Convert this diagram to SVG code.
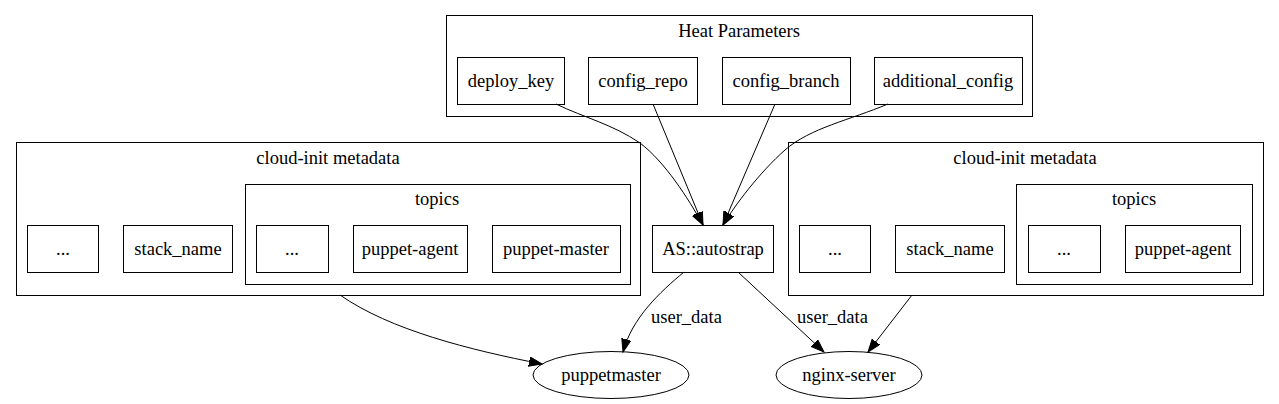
<svg xmlns="http://www.w3.org/2000/svg" width="1279" height="404" viewBox="0 0 1279 404">
<style>
text{font-family:'Liberation Serif','Times New Roman',Times,serif;font-size:18.5px;fill:#000;text-anchor:middle}
.c{fill:none;stroke:#000;stroke-width:1}
.n{fill:#fff;stroke:#000;stroke-width:1}
.e{fill:none;stroke:#000;stroke-width:1}
.l{text-anchor:start}
</style>
<defs>
<marker id="ah" markerUnits="userSpaceOnUse" markerWidth="14" markerHeight="10" refX="13" refY="4.7" orient="auto">
<path d="M0,0 L13,4.7 L0,9.4 z" fill="#000" stroke="#000" stroke-width="1"/>
</marker>
</defs>
<rect width="1279" height="404" fill="#fff"/>
<g id="cluster_heat">
<rect class="c" x="446.5" y="15.5" width="586" height="101"/>
<text x="739" y="37">Heat Parameters</text>
</g>
<g id="cluster_cloudinit_left">
<rect class="c" x="16.5" y="142.5" width="624" height="153"/>
<text x="328" y="164">cloud-init metadata</text>
</g>
<g id="cluster_topics_left">
<rect class="c" x="245.5" y="184.5" width="385" height="100"/>
<text x="437" y="205">topics</text>
</g>
<g id="cluster_cloudinit_right">
<rect class="c" x="788.5" y="142.5" width="475" height="153"/>
<text x="1025" y="164">cloud-init metadata</text>
</g>
<g id="cluster_topics_right">
<rect class="c" x="1016.5" y="184.5" width="236" height="100"/>
<text x="1134" y="205">topics</text>
</g>
<g id="deploy_key"><rect class="n" x="457.5" y="57.5" width="107" height="47"/><text x="511" y="87">deploy_key</text></g>
<g id="config_repo"><rect class="n" x="588.5" y="57.5" width="109" height="47"/><text x="643" y="87">config_repo</text></g>
<g id="config_branch"><rect class="n" x="722.5" y="57.5" width="128" height="47"/><text x="786" y="87">config_branch</text></g>
<g id="additional_config"><rect class="n" x="874.5" y="57.5" width="148" height="47"/><text x="948" y="87">additional_config</text></g>
<g id="l_dots"><rect class="n" x="27.5" y="225.5" width="71" height="47"/><text x="63" y="255">...</text></g>
<g id="l_stack_name"><rect class="n" x="123.5" y="225.5" width="109" height="47"/><text x="178" y="255">stack_name</text></g>
<g id="l_topics_dots"><rect class="n" x="256.5" y="225.5" width="72" height="47"/><text x="292" y="255">...</text></g>
<g id="l_puppet_agent"><rect class="n" x="353.5" y="225.5" width="114" height="47"/><text x="410" y="255">puppet-agent</text></g>
<g id="l_puppet_master"><rect class="n" x="492.5" y="225.5" width="128" height="47"/><text x="556" y="255">puppet-master</text></g>
<g id="autostrap"><rect class="n" x="652.5" y="225.5" width="121" height="47"/><text x="713" y="255">AS::autostrap</text></g>
<g id="r_dots"><rect class="n" x="799.5" y="225.5" width="71" height="47"/><text x="835" y="255">...</text></g>
<g id="r_stack_name"><rect class="n" x="895.5" y="225.5" width="109" height="47"/><text x="950" y="255">stack_name</text></g>
<g id="r_topics_dots"><rect class="n" x="1028.5" y="225.5" width="72" height="47"/><text x="1064" y="255">...</text></g>
<g id="r_puppet_agent"><rect class="n" x="1125.5" y="225.5" width="115" height="47"/><text x="1183" y="255">puppet-agent</text></g>
<g id="puppetmaster"><ellipse class="n" cx="611" cy="375" rx="78" ry="23.5"/><text x="611" y="381">puppetmaster</text></g>
<g id="nginx_server"><ellipse class="n" cx="849" cy="375" rx="73" ry="23.5"/><text x="849" y="381">nginx-server</text></g>
<g id="connectors">
<path class="e" marker-end="url(#ah)" d="M556,104 C585,118 612,124 640,143 C665,162 688,198 703,225"/>
<path class="e" marker-end="url(#ah)" d="M653,104 L703,225"/>
<path class="e" marker-end="url(#ah)" d="M775,104 L723,225"/>
<path class="e" marker-end="url(#ah)" d="M888,104 C850,120 810,128 785,150 C760,172 735,205 723,225"/>
<path class="e" marker-end="url(#ah)" d="M684,272 C660,292 632,318 623,352"/>
<path class="e" marker-end="url(#ah)" d="M738,272 L824,352"/>
<path class="e" marker-end="url(#ah)" d="M340,295 C390,330 470,350 542,364"/>
<path class="e" marker-end="url(#ah)" d="M912,295 L868,352"/>
<text class="l" x="651" y="323">user_data</text>
<text class="l" x="797" y="323">user_data</text>
</g>
</svg>
